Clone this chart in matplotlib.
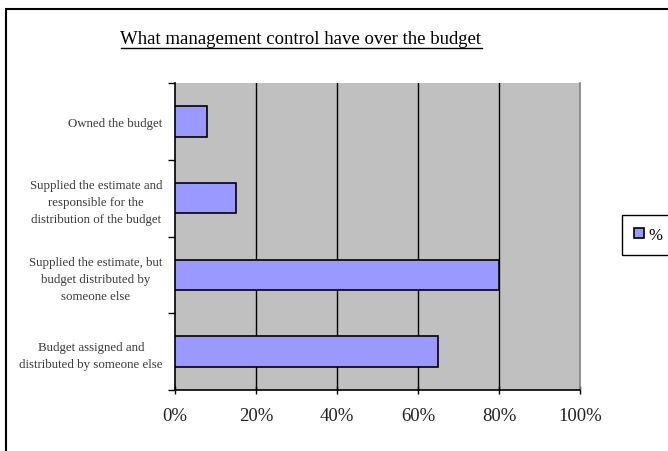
import matplotlib
matplotlib.use('Agg')
import matplotlib.pyplot as plt
from matplotlib.patches import Rectangle
from matplotlib.lines import Line2D

# dati (dall'alto verso il basso)
categories = ['Owned the budget',
              'Supplied the estimate and\nresponsible for the\ndistribution of the budget',
              'Supplied the estimate, but\nbudget distributed by\nsomeone else',
              'Budget assigned and\ndistributed by someone else']
values = [8, 15, 80, 65]
x_ticks = [0, 20, 40, 60, 80, 100]
x_labels = ['0%', '20%', '40%', '60%', '80%', '100%']
series_name = '%'
title = 'What management control have over the budget'

plt.rcParams['font.family'] = ['Liberation Serif', 'DejaVu Serif']

fig = plt.figure(figsize=(6.68, 4.52), dpi=100)
ax = fig.add_axes([175 / 668, 61 / 452, 405 / 668, 307 / 452])
ax.set_facecolor('#C0C0C0')

pos = list(range(len(categories)))
ax.barh(pos, values, height=0.4, color='#9999FF', edgecolor='black', linewidth=1.2,
        label=series_name, zorder=3)

ax.set_xlim(0, 100)
ax.set_ylim(len(categories) - 0.5, -0.5)

# griglia verticale
for t in x_ticks[1:-1]:
    ax.axvline(t, color='black', linewidth=1, zorder=1)

ax.set_xticks(x_ticks)
ax.set_xticklabels(x_labels, fontsize=13.5, color='#222222')
ax.tick_params(axis='x', direction='inout', length=6, width=1, pad=9)

ax.set_yticks(pos)
ax.set_yticklabels(categories, fontsize=9.3, color='#3a3a3a', linespacing=1.55,
                   multialignment='center')
ax.tick_params(axis='y', which='major', length=0, pad=9)
ax.set_yticks([p - 0.5 for p in pos] + [len(pos) - 0.5], minor=True)
ax.tick_params(axis='y', which='minor', direction='out', length=5, width=1)

for s in ['left', 'bottom']:
    ax.spines[s].set_color('black')
    ax.spines[s].set_linewidth(1.2)
ax.spines['right'].set_color('#808080')
ax.spines['right'].set_linewidth(1.2)
ax.spines['top'].set_visible(False)

# legenda
leg = fig.legend(loc='center left', bbox_to_anchor=(622 / 668, 1 - 236 / 452),
                 fancybox=False, edgecolor='black', framealpha=1, fontsize=12,
                 handlelength=0.6, handleheight=0.6, handletextpad=0.3,
                 borderpad=0.7, borderaxespad=0)
leg.get_frame().set_linewidth(1)

# titolo sottolineato
t = fig.text(301 / 668, 1 - 40 / 452, title, ha='center', va='center', fontsize=13.5,
             color='black')
fig.canvas.draw()
bb = t.get_window_extent().transformed(fig.transFigure.inverted())
fig.add_artist(Line2D([bb.x0, bb.x1], [1 - 49 / 452] * 2, color='black', linewidth=1,
                      transform=fig.transFigure))

# cornice esterna
fig.add_artist(Rectangle((6 / 668, -0.2), 1.3, 1.2 - 10 / 452, transform=fig.transFigure,
                         fill=False, edgecolor='black', linewidth=1.5, clip_on=False))

plt.savefig('out.png', dpi=100)
